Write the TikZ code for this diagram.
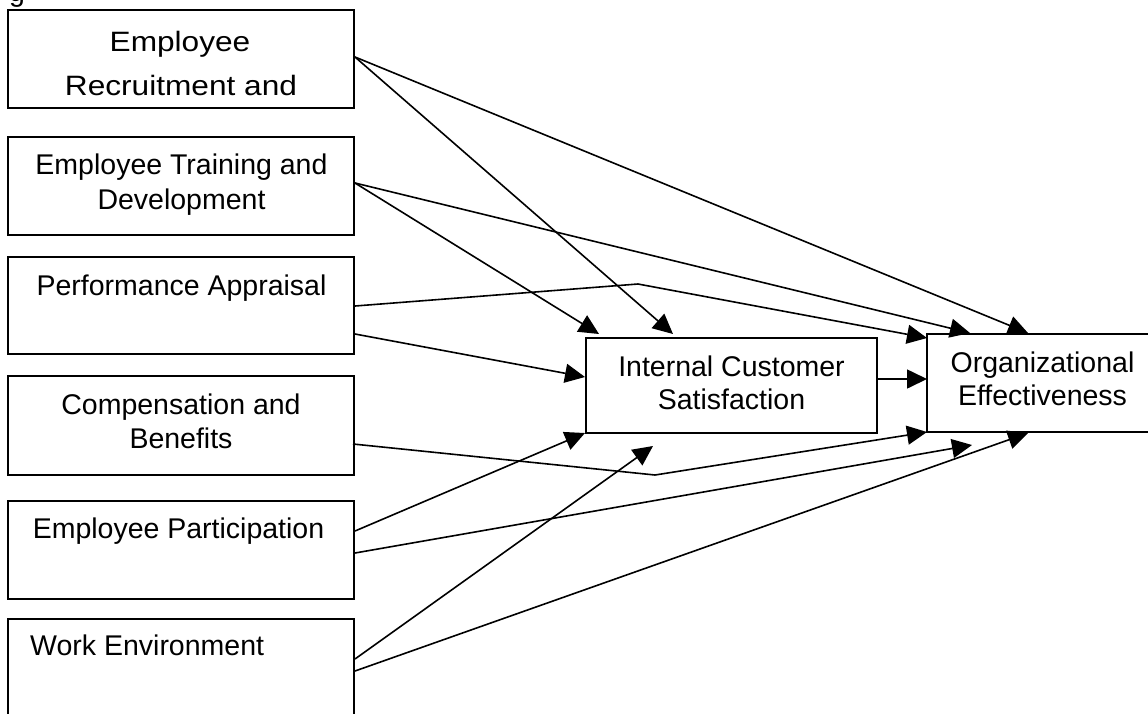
\documentclass[tikz,border=0pt]{standalone}
\usepackage{fontspec}
\setmainfont{Liberation Sans}
\usetikzlibrary{arrows.meta}
\tikzset{
  box/.style={draw, line width=1.7pt, inner sep=0pt, minimum width=346pt},
  lbl/.style={anchor=base, inner sep=0pt, font=\fontsize{28.5}{34}\selectfont},
  conn/.style={line width=1.6pt, -{Triangle[length=20pt,width=19pt]}},
}
\begin{document}
\begin{tikzpicture}[x=1pt,y=-1pt]
\clip (0,0) rectangle (1148,713);
\fill[white] (0,0) rectangle (1148,713);

% partial heading (cut off)
\node[lbl, anchor=base west] (fig) at (9,1) {g};

% left boxes
\node[box, minimum height=98pt] (b1) at (181,59) {};
\node[box, minimum height=98pt] (b2) at (181,186) {};
\node[box, minimum height=97pt] (b3) at (181,305.5) {};
\node[box, minimum height=99pt] (b4) at (181,425.5) {};
\node[box, minimum height=98pt] (b5) at (181,550) {};
\node[box, minimum height=98pt] (b6) at (181,668) {};

% middle and right boxes
\node[box, minimum width=291pt, minimum height=95pt] (ics) at (731.5,385.5) {};
\node[box, minimum width=240pt, minimum height=98pt] (oe) at (1047,383) {};

% texts
\node[lbl, font=\fontsize{28}{32}\selectfont] (t1a) at (180,51) {\scalebox{1.13}[1]{Employee}};
\node[lbl, font=\fontsize{28}{32}\selectfont] (t1b) at (181,95) {\scalebox{1.13}[1]{Recruitment and}};
\node[lbl] (t2a) at (181.5,174) {Employee Training and};
\node[lbl] (t2b) at (181.5,209) {Development};
\node[lbl] (t3) at (181.5,295) {Performance Appraisal};
\node[lbl] (t4a) at (181,414) {Compensation and};
\node[lbl] (t4b) at (181,448) {Benefits};
\node[lbl] (t5) at (178.5,538) {Employee Participation};
\node[lbl, anchor=base west] (t6) at (30,655) {Work Environment};
\node[lbl] (tia) at (731.5,376) {Internal Customer};
\node[lbl] (tib) at (731.5,409) {Satisfaction};
\node[lbl] (toa) at (1042.5,372) {Organizational};
\node[lbl] (tob) at (1042.5,405) {Effectiveness};

% connection points
\coordinate (b1o) at (355,57);
\coordinate (b2o) at (355,183);
\coordinate (b3o1) at (355,306);
\coordinate (b3o2) at (355,334);
\coordinate (b4o) at (353,444);
\coordinate (b5o1) at (355,531);
\coordinate (b5o2) at (355,553);
\coordinate (b6o1) at (355,659);
\coordinate (b6o2) at (355,671);
\coordinate (bend3) at (638,284);
\coordinate (bend4) at (655,475);
\coordinate (icsT1) at (599,334);
\coordinate (icsT2) at (673,334);
\coordinate (icsL) at (585,377);
\coordinate (icsBL) at (585,433);
\coordinate (icsR) at (877,379);
\coordinate (free1) at (653,446);
\coordinate (free2) at (972,445);
\coordinate (oeT1) at (970,333);
\coordinate (oeT2) at (1028,333);
\coordinate (oeL1) at (927,338);
\coordinate (oeL) at (927,379);
\coordinate (oeL2) at (927,432);
\coordinate (oeB) at (1028,433);

% connectors
\draw[conn] (b1o) -- (icsT2);
\draw[conn] (b1o) -- (oeT2);
\draw[conn] (b2o) -- (icsT1);
\draw[conn] (b2o) -- (oeT1);
\draw[conn] (b3o1) -- (bend3) -- (oeL1);
\draw[conn] (b3o2) -- (icsL);
\draw[conn] (b4o) -- (bend4) -- (oeL2);
\draw[conn] (b5o1) -- (icsBL);
\draw[conn] (b5o2) -- (free2);
\draw[conn] (b6o1) -- (free1);
\draw[conn] (b6o2) -- (oeB);
\draw[conn] (icsR) -- (oeL);
\end{tikzpicture}
\end{document}
